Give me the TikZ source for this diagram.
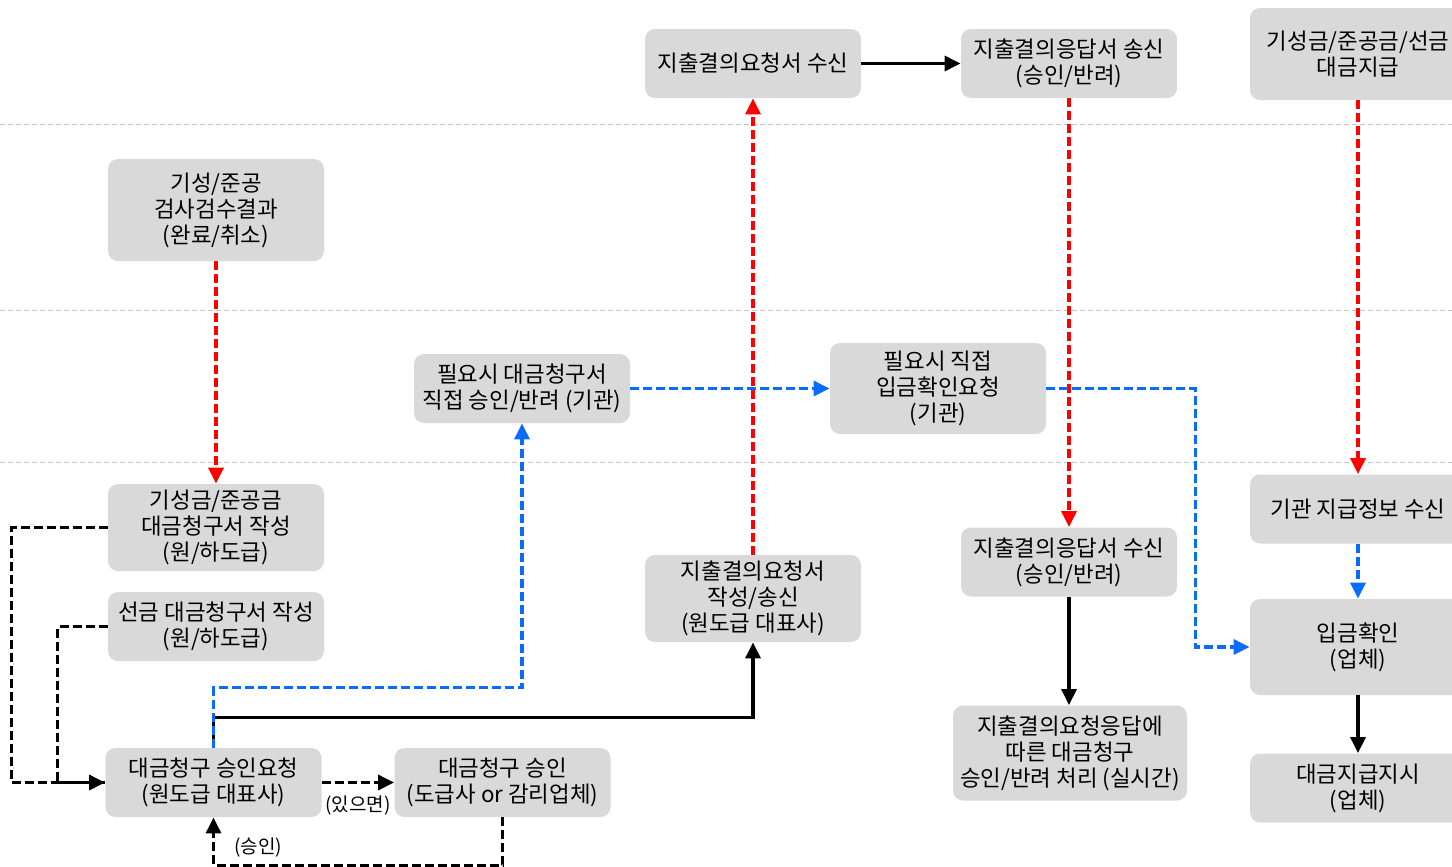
\documentclass[tikz,border=0pt]{standalone}
\usepackage{fontspec}
\setmainfont{Noto Sans CJK KR}
\usepackage{xcolor}
\usetikzlibrary{positioning,arrows.meta,calc}

\definecolor{boxgray}{HTML}{D9D9D9}
\definecolor{flowred}{HTML}{FF0000}
\definecolor{flowblue}{HTML}{0A6CFF}
\definecolor{sepgray}{HTML}{C4C4C4}

\begin{document}
\begin{tikzpicture}[x=0.5pt,y=-0.5pt,
    every node/.style={font=\fontsize{11.2}{13}\selectfont},
    box/.style={fill=boxgray, rounded corners=5pt, minimum width=108pt, minimum height=34.5pt, align=center, inner sep=2pt},
    lbl/.style={font=\fontsize{9.5}{11}\selectfont, inner sep=1pt},
    sep/.style={draw=sepgray, line width=0.5pt, dash pattern=on 2.5pt off 1.5pt},
    flow/.style={-{Triangle[length=8pt, width=7.5pt]}, line width=1.6pt},
    blackdash/.style={flow, dash pattern=on 4.5pt off 2pt},
    redflow/.style={flow, flowred, dash pattern=on 4.5pt off 2pt},
    blueflow/.style={flow, flowblue, dash pattern=on 4.5pt off 2pt},
]
\path[use as bounding box] (0,0) rectangle (1452,867);
\clip (0,0) rectangle (1452,867);

% Lane separators
\foreach \y in {124,310,462} \draw[sep] (0,\y) -- (1452,\y);

% Top lane
\node[box] (rxreq) at (753,63.5) {지출결의요청서 수신};
\node[box] (txresp) at (1069,63.5) {지출결의응답서 송신\\(승인/반려)};
\node[box, minimum height=46pt] (pay) at (1358,54) {기성금/준공금/선금\\대금지급};

% Inspection
\node[box, minimum height=51pt] (insp) at (216,210) {기성/준공\\검사검수결과\\(완료/취소)};

% Agency lane
\node[box] (direct) at (522,388.5) {필요시 대금청구서\\직접 승인/반려 (기관)};
\node[box, minimum height=45.5pt] (chkreq) at (938,388.5) {필요시 직접\\입금확인요청\\(기관)};

% Contractor lane
\node[box, minimum height=43.5pt] (bill) at (216,527.5) {기성금/준공금\\대금청구서 작성\\(원/하도급)};
\node[box] (adv) at (216,626.5) {선금 대금청구서 작성\\(원/하도급)};
\node[box] (appreq) at (213.5,782.5) {대금청구 승인요청\\(원도급 대표사)};
\node[box] (approve) at (502.5,782.5) {대금청구 승인\\(도급사 or 감리업체)};
\node[box, minimum height=43.5pt] (txreq) at (753,598.5) {지출결의요청서\\작성/송신\\(원도급 대표사)};
\node[box] (rxresp) at (1069,562) {지출결의응답서 수신\\(승인/반려)};
\node[box, minimum width=117pt, minimum height=47.5pt] (proc) at (1070,753) {지출결의요청응답에\\따른 대금청구\\승인/반려 처리 (실시간)};
\node[box] (info) at (1358,509) {기관 지급정보 수신};
\node[box, minimum height=48pt] (confirm) at (1358,647) {입금확인\\(업체)};
\node[box] (order) at (1358,788) {대금지급지시\\(업체)};

% Arrows
\draw[flow] (rxreq) -- (txresp);
\draw[redflow] (txresp) -- (rxresp);
\draw[redflow] (txreq) -- (rxreq);
\draw[redflow] (pay) -- (info);
\draw[redflow] (insp) -- (bill);
\draw[blackdash] (bill.west) -- ++(-96,0) |- (appreq.west);
\draw[blackdash, -] (adv.west) -- ++(-50,0) |- (appreq.west);
\draw[blackdash] (appreq) -- node[lbl, below=5pt] (ifany) {(있으면)} (approve);
\draw[blackdash] (approve.south) -- ++(0,48) -| (appreq.south);
\node[lbl] (okl) at (258,848) {(승인)};
\draw[flow] (appreq.north) -- ++(0,-30) -| (txreq.south);
\draw[blueflow] (appreq.north) -- ++(0,-60) -| (direct.south);
\draw[blueflow] (direct) -- (chkreq);
\draw[blueflow] (chkreq.east) -- ++(149,0) |- (confirm.west);
\draw[blueflow] (info) -- (confirm);
\draw[flow] (rxresp.south) -- (rxresp.south |- proc.north);
\draw[flow] (confirm) -- (order);

\end{tikzpicture}
\end{document}
